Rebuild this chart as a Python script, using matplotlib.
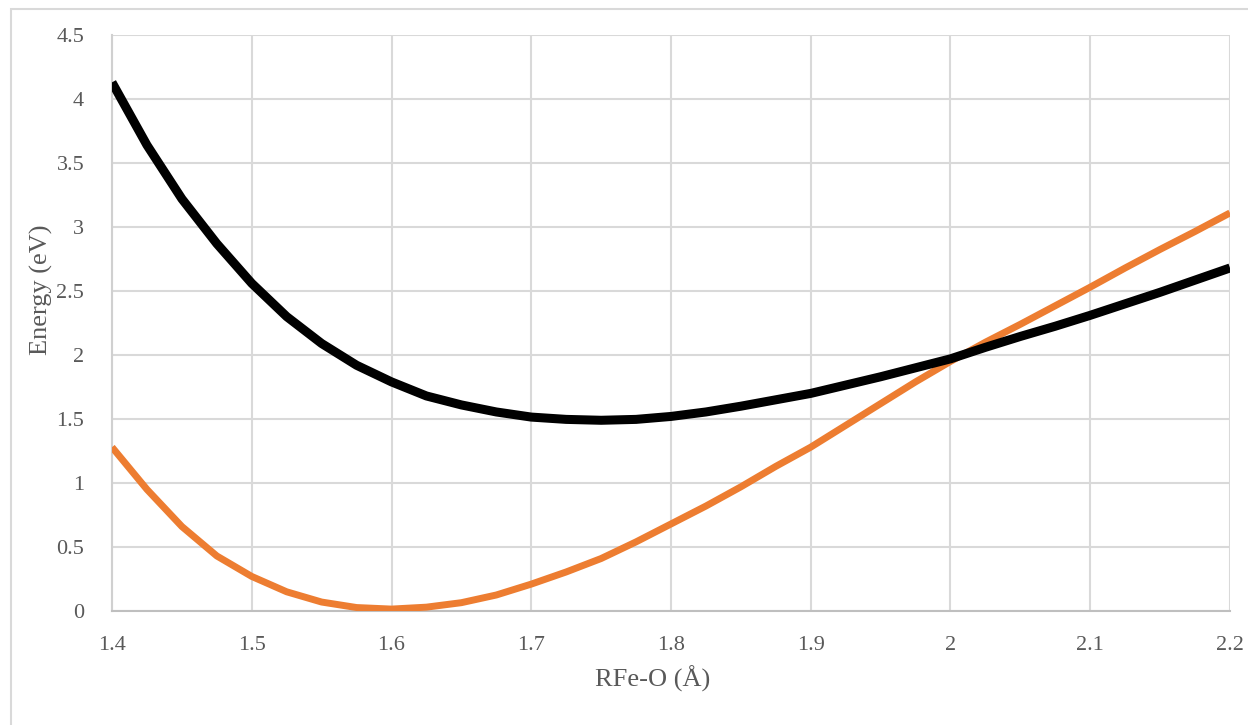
import matplotlib.pyplot as plt
from matplotlib.patches import Rectangle

# distances (Angstrom) and energies (eV)
r_fe_o = [1.400, 1.425, 1.450, 1.475, 1.500, 1.525, 1.550, 1.575, 1.600,
          1.625, 1.650, 1.675, 1.700, 1.725, 1.750, 1.775, 1.800, 1.825,
          1.850, 1.875, 1.900, 1.925, 1.950, 1.975, 2.000, 2.025, 2.050,
          2.075, 2.100, 2.125, 2.150, 2.175, 2.200]
energy_black = [4.13, 3.64, 3.22, 2.87, 2.56, 2.30, 2.09, 1.92, 1.79,
                1.68, 1.61, 1.555, 1.515, 1.497, 1.49, 1.497, 1.52, 1.555,
                1.60, 1.65, 1.70, 1.765, 1.83, 1.90, 1.97, 2.06, 2.145,
                2.225, 2.31, 2.40, 2.49, 2.585, 2.68]
energy_orange = [1.28, 0.95, 0.66, 0.43, 0.27, 0.15, 0.07, 0.027, 0.015,
                 0.03, 0.065, 0.125, 0.21, 0.305, 0.41, 0.54, 0.68, 0.82,
                 0.97, 1.13, 1.28, 1.45, 1.62, 1.79, 1.95, 2.10, 2.24,
                 2.385, 2.53, 2.68, 2.825, 2.965, 3.11]

x_ticks = [1.4, 1.5, 1.6, 1.7, 1.8, 1.9, 2.0, 2.1, 2.2]
x_tick_labels = ['1.4', '1.5', '1.6', '1.7', '1.8', '1.9', '2', '2.1', '2.2']
y_ticks = [0, 0.5, 1, 1.5, 2, 2.5, 3, 3.5, 4, 4.5]
y_tick_labels = ['0', '0.5', '1', '1.5', '2', '2.5', '3', '3.5', '4', '4.5']

plt.rcParams['font.family'] = ['Liberation Serif', 'DejaVu Serif']

fig = plt.figure(figsize=(12.48, 7.25), dpi=100)
ax = fig.add_axes([112 / 1248, 1 - 611 / 725, (1230 - 112) / 1248, (611 - 35) / 725])

# light chart-area border (top and left visible)
fig.patches.append(Rectangle((11 / 1248, -0.1), 1.2, 1 - 9 / 725 + 0.1,
                             transform=fig.transFigure, fill=False,
                             edgecolor='#d9d9d9', linewidth=1.5, zorder=0))

ax.plot(r_fe_o, energy_orange, color='#ED7D31', linewidth=5, solid_capstyle='butt', zorder=3)
ax.plot(r_fe_o, energy_black, color='black', linewidth=6.5, solid_capstyle='butt', zorder=4)

ax.set_xlim(1.4, 2.2)
ax.set_ylim(0, 4.5)
ax.set_xticks(x_ticks)
ax.set_xticklabels(x_tick_labels)
ax.set_yticks(y_ticks)
ax.set_yticklabels(y_tick_labels)
ax.tick_params(length=0, labelsize=16, labelcolor='#595959')
ax.tick_params(axis='y', pad=20)
ax.tick_params(axis='x', pad=18)

ax.grid(True, color='#d9d9d9', linewidth=1.5)
ax.set_axisbelow(True)
for side in ['top', 'right']:
    ax.spines[side].set_visible(False)
ax.spines['left'].set_color('#d0d0d0')
ax.spines['left'].set_linewidth(1.5)
ax.spines['bottom'].set_color('#bfbfbf')
ax.spines['bottom'].set_linewidth(1.5)

ax.set_xlabel('RFe-O (Å)', fontsize=19, color='#595959')
ax.set_ylabel('Energy (eV)', fontsize=19, color='#595959')
ax.xaxis.set_label_coords(0.484, -0.095)
ax.yaxis.set_label_coords(-0.053, 0.557)

fig.savefig('out.png', dpi=100)
